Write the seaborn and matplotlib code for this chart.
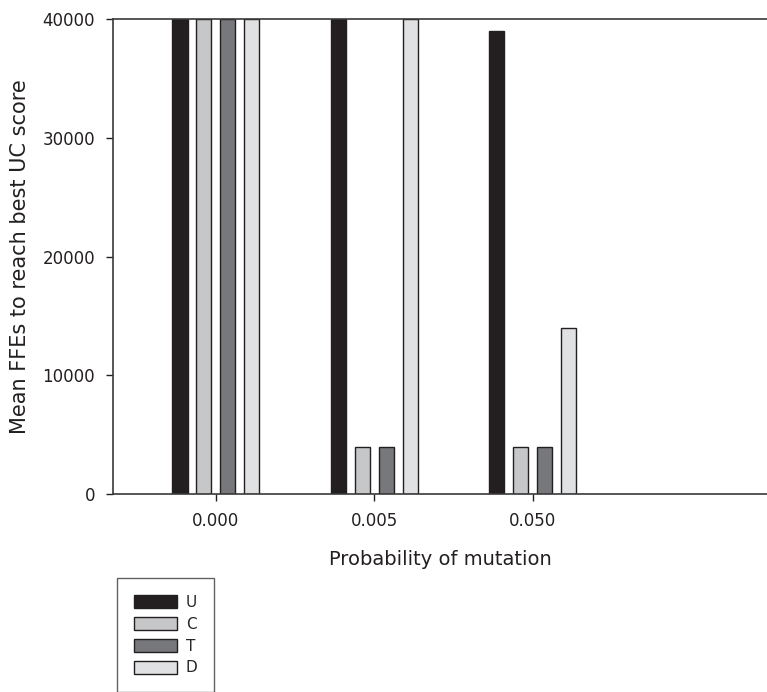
import pandas as pd
import matplotlib
matplotlib.use("Agg")
import matplotlib.pyplot as plt
import seaborn as sns

# data
mutation_probs = ["0.000", "0.005", "0.050"]
strategies = ["U", "C", "T", "D"]
ffes_U = [40000, 40000, 39000]
ffes_C = [40000, 4000, 4000]
ffes_T = [40000, 4000, 4000]
ffes_D = [40000, 40000, 14000]
bar_colors = ["#231f20", "#c6c7c9", "#77787b", "#e0e1e3"]

#build long table for seaborn
rows = []
for s, vals in zip(strategies, [ffes_U, ffes_C, ffes_T, ffes_D]):
    for p, v in zip(mutation_probs, vals):
        rows.append({"prob": p, "strategy": s, "ffes": v})
df = pd.DataFrame(rows)

sns.set_style("ticks")
plt.rcParams['font.family'] = ['DejaVu Sans']

fig = plt.figure(figsize=(7.67, 6.92), dpi=100)
ax = fig.add_axes([0.1473, 0.2861, 0.8527, 0.6864])

sns.barplot(data=df, x="prob", y="ffes", hue="strategy", order=mutation_probs,
            hue_order=strategies, palette=bar_colors, width=0.605, gap=0.37,
            edgecolor="#231f20", linewidth=1, saturation=1, ax=ax, legend=False)

ax.set_ylim(0, 40000)
ax.set_xlim(-0.65, 3.48)
ax.set_yticks([0, 10000, 20000, 30000, 40000])
ax.tick_params(axis="both", labelsize=12, colors="#231f20", length=5, width=1, pad=8)
for side in ["left", "bottom", "top"]:
    ax.spines[side].set_color("#3a3a3a")
    ax.spines[side].set_linewidth(1.2)
ax.spines["right"].set_visible(False)
ax.set_xlabel("Probability of mutation", fontsize=14, labelpad=14, color="#231f20")
ax.set_ylabel("Mean FFEs to reach best UC score", fontsize=15, labelpad=9, color="#231f20")

#legend below the plot
handles = [plt.Rectangle((0, 0), 1, 1, facecolor=c, edgecolor="#231f20", linewidth=1) for c in bar_colors]
leg = fig.legend(handles, strategies, loc="upper left", bbox_to_anchor=(117 / 767, 1 - 578 / 692),
                 frameon=True, fancybox=False, fontsize=11, handlelength=2.8, handleheight=0.9,
                 labelspacing=0.45, handletextpad=0.6, borderpad=1.1, borderaxespad=0)
leg.get_frame().set_edgecolor("#3a3a3a")
leg.get_frame().set_linewidth(1)

fig.savefig("out.png", dpi=100)
